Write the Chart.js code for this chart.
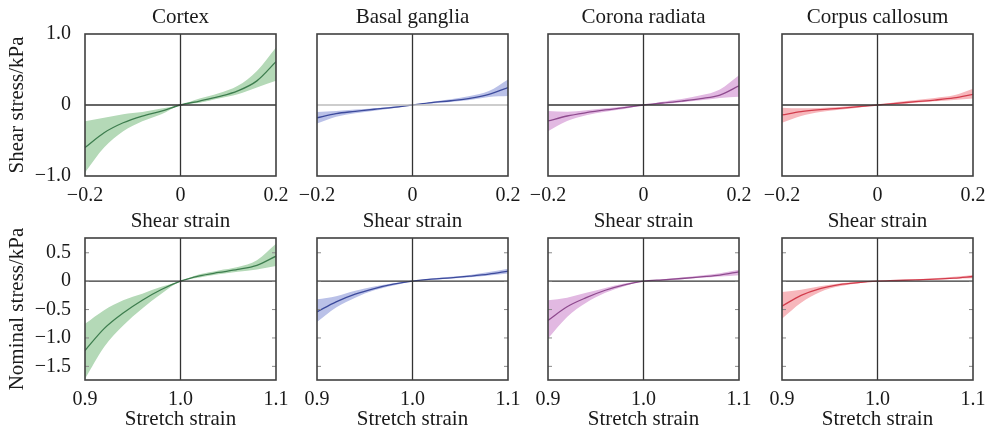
<!DOCTYPE html>
<html><head><meta charset="utf-8">
<script src="https://cdn.jsdelivr.net/npm/chart.js@4/dist/chart.umd.min.js"></script>
<style>
html,body{margin:0;padding:0;background:#fff;overflow:hidden;width:989px;height:432px;}
body{position:relative;}
canvas{position:absolute;}
</style></head><body>
<script>
// ---------- data ----------
const regions = ['Cortex', 'Basal ganglia', 'Corona radiata', 'Corpus callosum'];
const shearX   = [-0.2, -0.16, -0.12, -0.08, -0.04, 0, 0.04, 0.08, 0.12, 0.16, 0.2];
const stretchX = [0.9, 0.92, 0.94, 0.96, 0.98, 1.0, 1.02, 1.04, 1.06, 1.08, 1.1];

const shearTicks = [-0.2, 0, 0.2];
const shearTickLabels = ['\u22120.2', '0', '0.2'];
const stretchTicks = [0.9, 1.0, 1.1];
const stretchTickLabels = ['0.9', '1.0', '1.1'];
const shearStressTicks = [-1, 0, 1];
const shearStressTickLabels = ['\u22121.0', '0', '1.0'];
const nominalTicks = [-1.5, -1, -0.5, 0, 0.5];
const nominalTickLabels = ['\u22121.5', '\u22121.0', '\u22120.5', '0', '0.5'];

// shear (top row)
const cortexShearMean   = [-0.60, -0.39, -0.25, -0.155, -0.085, 0, 0.056, 0.118, 0.20, 0.34, 0.61];
const cortexShearUpper  = [-0.23, -0.18, -0.13, -0.10, -0.05, 0, 0.09, 0.165, 0.27, 0.48, 0.81];
const cortexShearLower  = [-0.95, -0.60, -0.37, -0.23, -0.13, 0, 0.03, 0.09, 0.15, 0.245, 0.34];
const basalShearMean    = [-0.18, -0.12, -0.09, -0.06, -0.033, 0, 0.033, 0.06, 0.094, 0.15, 0.245];
const basalShearUpper   = [-0.10, -0.085, -0.065, -0.047, -0.02, 0, 0.047, 0.08, 0.127, 0.197, 0.36];
const basalShearLower   = [-0.26, -0.165, -0.115, -0.08, -0.047, 0, 0.02, 0.042, 0.07, 0.113, 0.127];
const coronaShearMean   = [-0.225, -0.155, -0.108, -0.07, -0.038, 0, 0.028, 0.056, 0.09, 0.14, 0.27];
const coronaShearUpper  = [-0.085, -0.094, -0.075, -0.047, -0.02, 0, 0.047, 0.085, 0.136, 0.22, 0.42];
const coronaShearLower  = [-0.37, -0.225, -0.145, -0.094, -0.056, 0, 0.014, 0.038, 0.066, 0.10, 0.117];
const callosumShearMean  = [-0.14, -0.094, -0.066, -0.047, -0.023, 0, 0.023, 0.047, 0.07, 0.10, 0.15];
const callosumShearUpper = [-0.038, -0.047, -0.042, -0.028, -0.01, 0, 0.042, 0.07, 0.10, 0.136, 0.23];
const callosumShearLower = [-0.25, -0.155, -0.10, -0.066, -0.038, 0, 0.014, 0.033, 0.052, 0.07, 0.09];

// stretch (bottom row)
const cortexStretchMean   = [-1.22, -0.835, -0.56, -0.335, -0.147, 0, 0.094, 0.153, 0.206, 0.28, 0.44];
const cortexStretchUpper  = [-0.75, -0.51, -0.335, -0.22, -0.10, 0, 0.12, 0.19, 0.25, 0.37, 0.66];
const cortexStretchLower  = [-1.72, -1.16, -0.78, -0.48, -0.22, 0, 0.065, 0.12, 0.165, 0.205, 0.265];
const basalStretchMean    = [-0.54, -0.365, -0.23, -0.13, -0.053, 0, 0.035, 0.059, 0.088, 0.124, 0.176];
const basalStretchUpper   = [-0.32, -0.265, -0.17, -0.094, -0.035, 0, 0.047, 0.076, 0.11, 0.16, 0.22];
const basalStretchLower   = [-0.72, -0.465, -0.29, -0.16, -0.076, 0, 0.024, 0.047, 0.07, 0.10, 0.135];
const coronaStretchMean   = [-0.69, -0.45, -0.29, -0.16, -0.065, 0, 0.024, 0.047, 0.076, 0.106, 0.165];
const coronaStretchUpper  = [-0.335, -0.29, -0.205, -0.12, -0.04, 0, 0.035, 0.065, 0.10, 0.14, 0.20];
const coronaStretchLower  = [-1.01, -0.63, -0.38, -0.205, -0.088, 0, 0.012, 0.035, 0.059, 0.082, 0.106];
const callosumStretchMean  = [-0.44, -0.25, -0.13, -0.06, -0.024, 0, 0.012, 0.024, 0.035, 0.053, 0.082];
const callosumStretchUpper = [-0.19, -0.15, -0.09, -0.04, -0.012, 0, 0.018, 0.035, 0.053, 0.076, 0.11];
const callosumStretchLower = [-0.66, -0.38, -0.19, -0.09, -0.035, 0, 0.006, 0.018, 0.024, 0.041, 0.053];

const lineColors = ['#3d7d4e', '#3c4a9c', '#8e4a8e', '#d23c4c'];
const bandColors = ['#b4d9b7', '#bac1e8', '#e2b9e2', '#f7b7bc'];

// ---------- layout ----------
const FONT = "'Liberation Serif','Times New Roman',serif";
const TEXT = '#1a1a1a';
const plotLefts = [85, 317, 548, 782];
const PW = 191, PH = 142;

const framePlugin = {
  id: 'frame',
  afterDatasetsDraw(chart, args, opts) {
    const {ctx, chartArea: a, scales: {x, y}} = chart;
    ctx.save();
    const seg = (x1, y1, x2, y2) => { ctx.beginPath(); ctx.moveTo(x1, y1); ctx.lineTo(x2, y2); ctx.stroke(); };
    ctx.lineWidth = 1.3;
    ctx.strokeStyle = opts.hColor;
    const y0 = y.getPixelForValue(0);
    seg(a.left, y0, a.right, y0);
    ctx.strokeStyle = '#333';
    const x0 = x.getPixelForValue(opts.xZero);
    seg(x0, a.top, x0, a.bottom);
    if (opts.innerTicks) {
      ctx.strokeStyle = '#8a8a8a'; ctx.lineWidth = 1;
      y.ticks.forEach(t => {
        const p = y.getPixelForValue(t.value);
        seg(a.left, p, a.left + 4, p);
        seg(a.right - 4, p, a.right, p);
      });
    }
    ctx.strokeStyle = '#404040'; ctx.lineWidth = 1.6;
    ctx.strokeRect(a.left, a.top, a.width, a.height);
    ctx.restore();
  }
};

function makeChart(cfg) {
  const L = cfg.col === 0 ? 85 : 25, R = 25;
  const cv = document.createElement('canvas');
  const left = plotLefts[cfg.col] - L;
  const w = L + PW + R;
  cv.width = w; cv.height = cfg.h;
  cv.style.left = left + 'px'; cv.style.top = cfg.top + 'px';
  cv.style.width = w + 'px'; cv.style.height = cfg.h + 'px';
  document.body.appendChild(cv);
  const pts = arr => cfg.xs.map((xv, i) => ({x: xv, y: arr[i]}));
  new Chart(cv, {
    type: 'line',
    data: {
      datasets: [
        {data: pts(cfg.upper), order: 2, borderWidth: 0, pointRadius: 0, backgroundColor: bandColors[cfg.col], fill: '+1', cubicInterpolationMode: 'monotone'},
        {data: pts(cfg.lower), order: 2, borderWidth: 0, pointRadius: 0, backgroundColor: bandColors[cfg.col], fill: false, cubicInterpolationMode: 'monotone'},
        {data: pts(cfg.mean), order: 0, borderWidth: 1.3, borderColor: lineColors[cfg.col], pointRadius: 0, fill: false, cubicInterpolationMode: 'monotone'}
      ]
    },
    options: {
      responsive: false, animation: false, devicePixelRatio: 1,
      layout: {padding: {left: 0, right: R, top: cfg.padTop, bottom: 0}},
      plugins: {
        legend: {display: false}, tooltip: {enabled: false},
        title: cfg.title ? {display: true, fullSize: false, align: 'center', text: cfg.title, color: TEXT, font: {family: FONT, size: 21, weight: 'normal', lineHeight: 1.2}, padding: {top: 4.9, bottom: 3.9}} : {display: false},
        frame: {hColor: cfg.hColor || '#333', xZero: cfg.xZero, innerTicks: cfg.innerTicks}
      },
      scales: {
        x: {
          type: 'linear', min: cfg.xs[0], max: cfg.xs[cfg.xs.length - 1],
          grid: {display: false}, border: {display: false},
          afterBuildTicks: s => { s.ticks = cfg.xTicks.map(v => ({value: v})); },
          afterFit: s => { s.height = cfg.B; },
          ticks: {autoSkip: false, maxRotation: 0, padding: 0, color: TEXT, font: {family: FONT, size: 20}, callback: (v, i) => cfg.xTickLabels[i]},
          title: {display: true, text: cfg.xTitle, color: TEXT, font: {family: FONT, size: 21, lineHeight: 1.2}, padding: {top: 0, bottom: cfg.xTitlePad}}
        },
        y: {
          type: 'linear', min: cfg.yMin, max: cfg.yMax,
          grid: {display: false}, border: {display: false},
          afterBuildTicks: s => { s.ticks = cfg.yTicks.map(v => ({value: v})); },
          afterFit: s => { s.width = L; },
          ticks: {display: cfg.col === 0, autoSkip: false, padding: 6, color: TEXT, font: {family: FONT, size: 20}, callback: (v, i) => cfg.yTickLabels[i]},
          title: {display: cfg.col === 0, text: cfg.yTitle, color: TEXT, font: {family: FONT, size: 21, lineHeight: 1.2}, padding: {top: 4.9, bottom: 0}}
        }
      }
    },
    plugins: [framePlugin]
  });
}

const shearSets = [
  [cortexShearMean, cortexShearUpper, cortexShearLower],
  [basalShearMean, basalShearUpper, basalShearLower],
  [coronaShearMean, coronaShearUpper, coronaShearLower],
  [callosumShearMean, callosumShearUpper, callosumShearLower]
];
const stretchSets = [
  [cortexStretchMean, cortexStretchUpper, cortexStretchLower],
  [basalStretchMean, basalStretchUpper, basalStretchLower],
  [coronaStretchMean, coronaStretchUpper, coronaStretchLower],
  [callosumStretchMean, callosumStretchUpper, callosumStretchLower]
];

for (let c = 0; c < 4; c++) {
  makeChart({
    col: c, top: 0, h: 240, padTop: 0, B: 64, title: regions[c],
    xs: shearX, mean: shearSets[c][0], upper: shearSets[c][1], lower: shearSets[c][2],
    xTicks: shearTicks, xTickLabels: shearTickLabels, xTitle: 'Shear strain', xTitlePad: 6.4,
    yMin: -1, yMax: 1, yTicks: shearStressTicks, yTickLabels: shearStressTickLabels, yTitle: 'Shear stress/kPa',
    xZero: 0, hColor: c === 1 ? '#bdbdbd' : '#333', innerTicks: false
  });
  makeChart({
    col: c, top: 218, h: 218, padTop: 20, B: 56, title: null,
    xs: stretchX, mean: stretchSets[c][0], upper: stretchSets[c][1], lower: stretchSets[c][2],
    xTicks: stretchTicks, xTickLabels: stretchTickLabels, xTitle: 'Stretch strain', xTitlePad: 4.4,
    yMin: -1.74, yMax: 0.76, yTicks: nominalTicks, yTickLabels: nominalTickLabels, yTitle: 'Nominal stress/kPa',
    xZero: 1.0, hColor: '#333', innerTicks: true
  });
}
</script>
</body></html>
